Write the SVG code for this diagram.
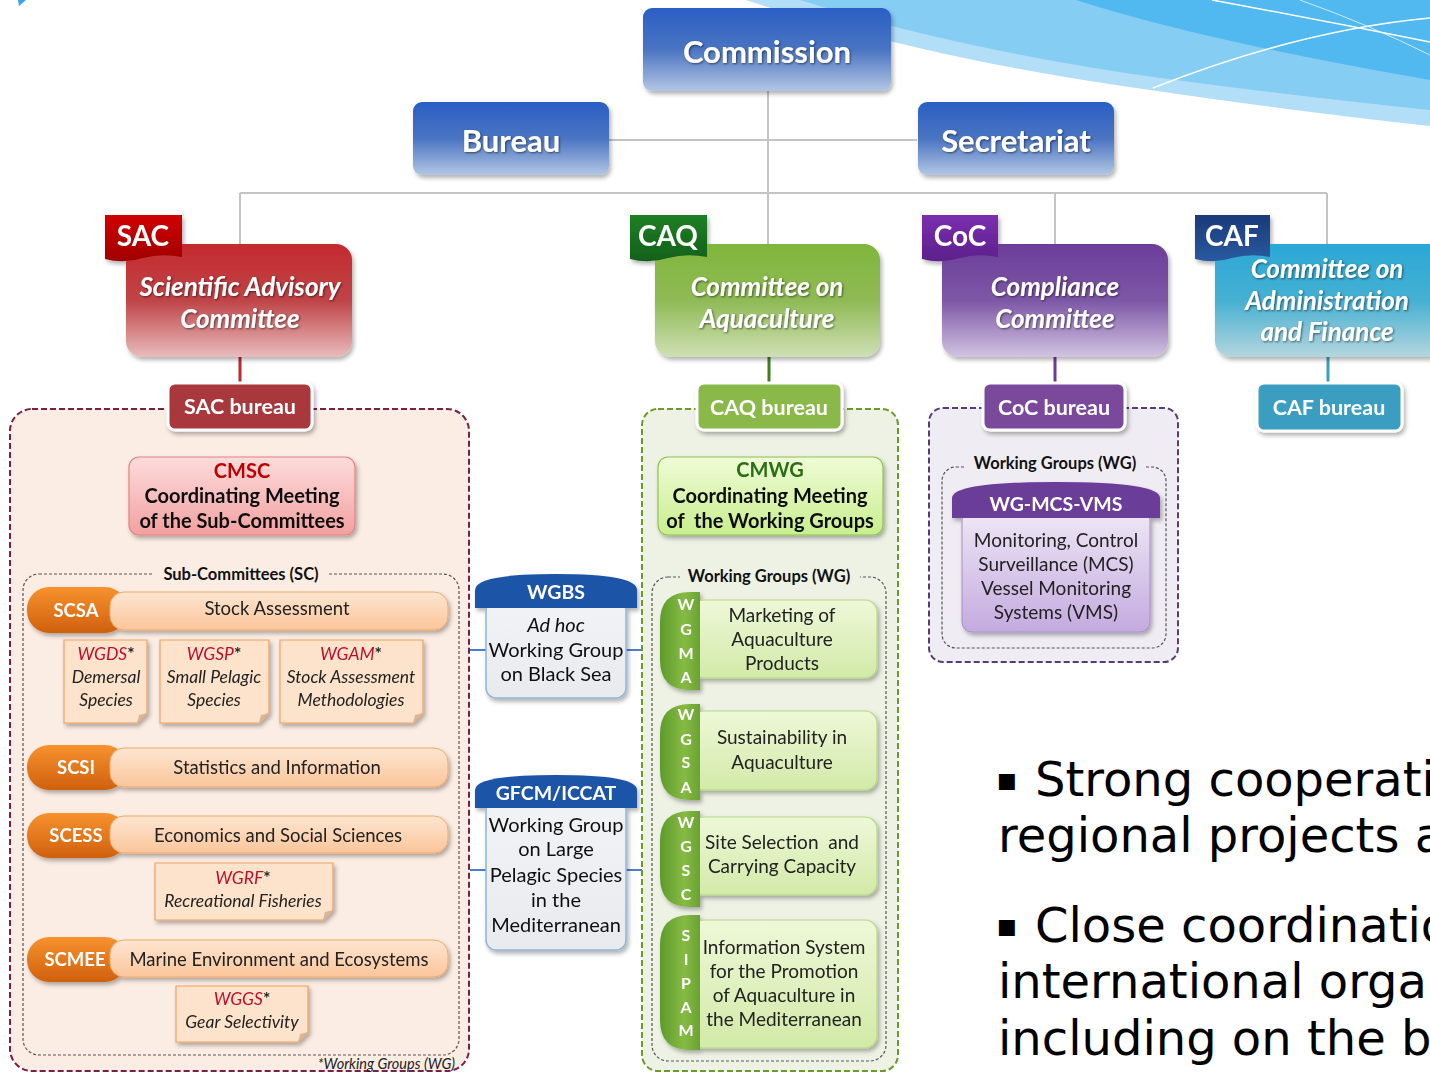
<svg xmlns="http://www.w3.org/2000/svg" width="1430" height="1073" viewBox="0 0 1430 1073">
<defs>
<linearGradient id="gBlue" x1="0" y1="0" x2="0" y2="1"><stop offset="0" stop-color="#2a5fc4"/><stop offset="0.5" stop-color="#4a74c2"/><stop offset="1" stop-color="#b3c6e4"/></linearGradient>
<linearGradient id="gRed" x1="0" y1="0" x2="0" y2="1"><stop offset="0" stop-color="#c42a2e"/><stop offset="0.5" stop-color="#bf4448"/><stop offset="1" stop-color="#e9bcbc"/></linearGradient>
<linearGradient id="gGreen" x1="0" y1="0" x2="0" y2="1"><stop offset="0" stop-color="#80b63c"/><stop offset="0.5" stop-color="#8fba55"/><stop offset="1" stop-color="#cfe0b4"/></linearGradient>
<linearGradient id="gPurple" x1="0" y1="0" x2="0" y2="1"><stop offset="0" stop-color="#6b3d99"/><stop offset="0.5" stop-color="#7d57a6"/><stop offset="1" stop-color="#d2c4e2"/></linearGradient>
<linearGradient id="gTeal" x1="0" y1="0" x2="0" y2="1"><stop offset="0" stop-color="#2aa8d6"/><stop offset="0.5" stop-color="#46b0d2"/><stop offset="1" stop-color="#b4d6de"/></linearGradient>
<linearGradient id="gTagRed" x1="0" y1="0" x2="0" y2="1"><stop offset="0" stop-color="#d00000"/><stop offset="1" stop-color="#a00000"/></linearGradient>
<linearGradient id="gTagGreen" x1="0" y1="0" x2="0" y2="1"><stop offset="0" stop-color="#1f7f24"/><stop offset="1" stop-color="#11601a"/></linearGradient>
<linearGradient id="gTagPurple" x1="0" y1="0" x2="0" y2="1"><stop offset="0" stop-color="#7b2fb0"/><stop offset="1" stop-color="#5c1f8a"/></linearGradient>
<linearGradient id="gTagNavy" x1="0" y1="0" x2="0" y2="1"><stop offset="0" stop-color="#1b3a78"/><stop offset="1" stop-color="#2a5aa0"/></linearGradient>
<linearGradient id="gCMSC" x1="0" y1="0" x2="0" y2="1"><stop offset="0" stop-color="#fcdcdc"/><stop offset="1" stop-color="#f3a0a0"/></linearGradient>
<linearGradient id="gCMWG" x1="0" y1="0" x2="0" y2="1"><stop offset="0" stop-color="#effbd8"/><stop offset="1" stop-color="#c9ee8e"/></linearGradient>
<linearGradient id="gOrange" x1="0" y1="0" x2="0" y2="1"><stop offset="0" stop-color="#f7922e"/><stop offset="1" stop-color="#d0600e"/></linearGradient>
<linearGradient id="gBar" x1="0" y1="0" x2="0" y2="1"><stop offset="0" stop-color="#fde6d2"/><stop offset="1" stop-color="#fbc59a"/></linearGradient>
<linearGradient id="gWgTab" x1="0" y1="0" x2="1" y2="0"><stop offset="0" stop-color="#5e9a2a"/><stop offset="0.6" stop-color="#86bb44"/><stop offset="1" stop-color="#6aa232"/></linearGradient>
<linearGradient id="gWgBox" x1="0" y1="0" x2="0" y2="1"><stop offset="0" stop-color="#eef8d8"/><stop offset="1" stop-color="#d2eaa8"/></linearGradient>
<linearGradient id="gLav" x1="0" y1="0" x2="0" y2="1"><stop offset="0" stop-color="#efe8f6"/><stop offset="1" stop-color="#c4aadf"/></linearGradient>
<linearGradient id="gGrey" x1="0" y1="0" x2="0" y2="1"><stop offset="0" stop-color="#f2f3f5"/><stop offset="1" stop-color="#e8eaee"/></linearGradient>
<filter id="sh" x="-10%" y="-10%" width="125%" height="130%"><feDropShadow dx="2" dy="3" stdDeviation="2" flood-color="#000" flood-opacity="0.3"/></filter>
<filter id="tsh" x="-5%" y="-20%" width="110%" height="150%"><feDropShadow dx="1" dy="1" stdDeviation="0.8" flood-color="#000" flood-opacity="0.55"/></filter>
<style>
text{font-family:Lato,"Open Sans","Liberation Sans",sans-serif}
.big{font-size:31px;font-weight:bold;fill:#fff;text-anchor:middle}
.tag{font-size:28px;font-weight:bold;fill:#fff;text-anchor:middle}
.com{font-size:26px;font-weight:bold;font-style:italic;fill:#fff;text-anchor:middle}
.bur{font-size:21.5px;font-weight:bold;fill:#fff;text-anchor:middle}
.cm{font-size:20px;font-weight:bold;fill:#111;text-anchor:middle}
.lbl{font-size:16.5px;font-weight:bold;fill:#111;text-anchor:middle}
.sc{font-size:18.5px;font-weight:bold;fill:#fff;text-anchor:middle}
.bar{font-size:18.5px;fill:#222;text-anchor:middle}
.note{font-size:17.5px;font-style:italic;fill:#222;text-anchor:middle}
.wgr{fill:#c0102a}
.ast{font-weight:bold;font-style:normal;fill:#222}
.wgt{font-size:19px;fill:#222;text-anchor:middle}
.let{font-size:16px;font-weight:bold;fill:#fff;text-anchor:middle}
.mid{font-size:20px;fill:#111;text-anchor:middle}
.cap{font-size:19.5px;font-weight:bold;fill:#fff;text-anchor:middle}
.bul{font-family:"DejaVu Sans",Verdana,sans-serif;font-size:48px;fill:#000}
.gline{stroke:#c4c4c4;stroke-width:2;fill:none}
.dash{stroke-dasharray:6 3;stroke-width:2}
.dot{stroke:#555;stroke-width:1.2;stroke-dasharray:3 2;fill:none}
.wbox{stroke:#fff;stroke-width:3}
</style>
</defs>

<!-- background decoration -->
<g id="background">
<path d="M746 0 Q 930 60 1150 90 Q 1300 112 1430 126 L1430 0 Z" fill="#b3def8"/>
<path d="M800 0 Q 960 50 1160 78 Q 1310 98 1430 110 L1430 0 Z" fill="#86cdf4"/>
<path d="M1076 0 Q 1200 40 1430 80 L1430 0 Z" fill="#52b8f0"/>
<path d="M1212 0 Q 1320 20 1430 42" stroke="#fff" stroke-width="1.5" fill="none"/>
<path d="M1153 88 Q 1300 30 1430 18" stroke="#fff" stroke-width="1.5" fill="none"/>
<path d="M1300 0 Q 1370 25 1430 55" stroke="#fff" stroke-width="1" fill="none" opacity="0.7"/>
<polygon points="18,0 26,0 19,6" fill="#3aa6e8"/>
</g>

<!-- connectors -->
<g id="connectors">
<path class="gline" d="M768 90 V193 M609 140 H917 M240 193 H1327 M240 193 V245 M768 193 V245 M1055 193 V245 M1327 193 V245"/>
<path d="M240 357 V384 M240 430 V458 M240 535 V562" stroke="#c0282d" stroke-width="3"/>
<path d="M769 357 V384 M769 430 V458 M769 535 V565" stroke="#3f7f1e" stroke-width="3"/>
<path d="M1055 357 V384 M1055 430 V452" stroke="#6b3d99" stroke-width="3"/>
<path d="M1328 357 V384" stroke="#3a9ebe" stroke-width="3"/>
<path d="M470 650 H486 M626 650 H642 M470 870 H486 M626 870 H642" stroke="#4a7fd0" stroke-width="2"/>
</g>

<!-- top nodes -->
<g id="commission" filter="url(#sh)"><rect x="643" y="8" width="248" height="83" rx="9" fill="url(#gBlue)"/><text class="big" x="767" y="63" filter="url(#tsh)" font-size="34.5">Commission</text></g>
<g id="bureau" filter="url(#sh)"><rect x="413" y="102" width="196" height="73" rx="9" fill="url(#gBlue)"/><text class="big" x="511" y="152" filter="url(#tsh)">Bureau</text></g>
<g id="secretariat" filter="url(#sh)"><rect x="918" y="102" width="196" height="73" rx="9" fill="url(#gBlue)"/><text class="big" x="1016" y="152" filter="url(#tsh)">Secretariat</text></g>

<!-- SAC -->
<g id="sac-container"><rect x="10" y="409" width="459" height="662" rx="22" fill="#fbede4" stroke="#7a1f45" class="dash"/></g>
<g id="sac" filter="url(#sh)">
<rect x="126" y="244" width="226" height="113" rx="16" fill="url(#gRed)"/>
<path d="M105 215 H182 V257 Q162 253 143 258 Q124 264 105 259 Z" fill="url(#gTagRed)"/>
<text class="tag" x="143" y="246">SAC</text>
<text class="com" x="240" y="296" filter="url(#tsh)">Scientific Advisory</text>
<text class="com" x="240" y="328" filter="url(#tsh)">Committee</text>
</g>
<g id="sac-bureau" filter="url(#sh)"><rect x="168" y="383" width="144" height="47" rx="7" fill="#a8373b" class="wbox"/><text class="bur" x="240" y="414">SAC bureau</text></g>
<g id="cmsc" filter="url(#sh)"><rect x="129" y="457" width="226" height="78" rx="10" fill="url(#gCMSC)" stroke="#e58080" stroke-width="1.2"/>
<text class="cm" x="242" y="478" style="fill:#c00000">CMSC</text>
<text class="cm" x="242" y="503">Coordinating Meeting</text>
<text class="cm" x="242" y="528">of the Sub-Committees</text></g>

<g id="sub-committees">
<rect x="23" y="574" width="436" height="481" rx="16" class="dot"/>
<rect x="154" y="565" width="174" height="18" fill="#fbede4"/>
<text class="lbl" x="241" y="580">Sub-Committees (SC)</text>
</g>

<g id="scsa" filter="url(#sh)"><rect x="27" y="587" width="100" height="46" rx="22" fill="url(#gOrange)"/><rect x="110" y="592" width="338" height="38" rx="14" fill="url(#gBar)" stroke="#f2a86a" stroke-width="1"/><text class="sc" x="76" y="617">SCSA</text><text class="bar" x="277" y="615">Stock Assessment</text></g>
<g id="wgds" filter="url(#sh)"><path d="M64 640 H147 V713 L137 723 H64 Z" fill="#fde3cb" stroke="#f0a060" stroke-width="1.2"/><path d="M147 713 L137 723 L139 715 Z" fill="#d8b89a"/><text class="note" x="106" y="660"><tspan class="wgr">WGDS</tspan><tspan class="ast">*</tspan></text><text class="note" x="106" y="683">Demersal</text><text class="note" x="106" y="706">Species</text></g>
<g id="wgsp" filter="url(#sh)"><path d="M160 640 H269 V713 L259 723 H160 Z" fill="#fde3cb" stroke="#f0a060" stroke-width="1.2"/><path d="M269 713 L259 723 L261 715 Z" fill="#d8b89a"/><text class="note" x="214" y="660"><tspan class="wgr">WGSP</tspan><tspan class="ast">*</tspan></text><text class="note" x="214" y="683">Small Pelagic</text><text class="note" x="214" y="706">Species</text></g>
<g id="wgam" filter="url(#sh)"><path d="M280 640 H423 V713 L413 723 H280 Z" fill="#fde3cb" stroke="#f0a060" stroke-width="1.2"/><path d="M423 713 L413 723 L415 715 Z" fill="#d8b89a"/><text class="note" x="351" y="660"><tspan class="wgr">WGAM</tspan><tspan class="ast">*</tspan></text><text class="note" x="351" y="683">Stock Assessment</text><text class="note" x="351" y="706">Methodologies</text></g>
<g id="scsi" filter="url(#sh)"><rect x="27" y="745" width="100" height="45" rx="22" fill="url(#gOrange)"/><rect x="110" y="748" width="338" height="39" rx="14" fill="url(#gBar)" stroke="#f2a86a" stroke-width="1"/><text class="sc" x="76" y="774">SCSI</text><text class="bar" x="277" y="774">Statistics and Information</text></g>
<g id="scess" filter="url(#sh)"><rect x="27" y="813" width="100" height="45" rx="22" fill="url(#gOrange)"/><rect x="110" y="816" width="338" height="37" rx="14" fill="url(#gBar)" stroke="#f2a86a" stroke-width="1"/><text class="sc" x="76" y="842">SCESS</text><text class="bar" x="278" y="842">Economics and Social Sciences</text></g>
<g id="wgrf" filter="url(#sh)"><path d="M155 863 H333 V910 L323 920 H155 Z" fill="#fde3cb" stroke="#f0a060" stroke-width="1.2"/><path d="M333 910 L323 920 L325 912 Z" fill="#d8b89a"/><text class="note" x="243" y="884"><tspan class="wgr">WGRF</tspan><tspan class="ast">*</tspan></text><text class="note" x="243" y="907">Recreational Fisheries</text></g>
<g id="scmee" filter="url(#sh)"><rect x="27" y="937" width="100" height="45" rx="22" fill="url(#gOrange)"/><rect x="110" y="940" width="338" height="37" rx="14" fill="url(#gBar)" stroke="#f2a86a" stroke-width="1"/><text class="sc" x="75" y="966">SCMEE</text><text class="bar" x="279" y="966">Marine Environment and Ecosystems</text></g>
<g id="wggs" filter="url(#sh)"><path d="M176 986 H308 V1032 L298 1042 H176 Z" fill="#fde3cb" stroke="#f0a060" stroke-width="1.2"/><path d="M308 1032 L298 1042 L300 1034 Z" fill="#d8b89a"/><text class="note" x="242" y="1005"><tspan class="wgr">WGGS</tspan><tspan class="ast">*</tspan></text><text class="note" x="242" y="1028">Gear Selectivity</text></g>
<g id="wg-footnote"><text x="455" y="1069" font-size="14.5" font-style="italic" fill="#222" text-anchor="end">*Working Groups (WG)</text></g>

<!-- middle working groups -->
<g id="wgbs" filter="url(#sh)">
<rect x="486" y="600" width="140" height="98" rx="10" fill="url(#gGrey)" stroke="#8fb6d8" stroke-width="1.5"/>
<path d="M475 608 V590 Q475 574 556 574 Q637 574 637 590 V608 Z" fill="#1f55a8"/>
<text class="cap" x="556" y="599">WGBS</text>
<text class="mid" x="556" y="632" font-style="italic">Ad hoc</text>
<text class="mid" x="556" y="657">Working Group</text>
<text class="mid" x="556" y="681">on Black Sea</text>
</g>
<g id="gfcm-iccat" filter="url(#sh)">
<rect x="486" y="800" width="140" height="150" rx="10" fill="url(#gGrey)" stroke="#8fb6d8" stroke-width="1.5"/>
<path d="M475 808 V790 Q475 775 556 775 Q637 775 637 790 V808 Z" fill="#1f55a8"/>
<text class="cap" x="556" y="800">GFCM/ICCAT</text>
<text class="mid" x="556" y="832">Working Group</text>
<text class="mid" x="556" y="856">on Large</text>
<text class="mid" x="556" y="882">Pelagic Species</text>
<text class="mid" x="556" y="907">in the</text>
<text class="mid" x="556" y="932">Mediterranean</text>
</g>

<!-- CAQ -->
<g id="caq-container"><rect x="642" y="409" width="256" height="662" rx="16" fill="#eef2e4" stroke="#6a9a2a" class="dash"/></g>
<g id="caq" filter="url(#sh)">
<rect x="655" y="244" width="225" height="113" rx="16" fill="url(#gGreen)"/>
<path d="M630 215 H707 V257 Q687 253 668 258 Q649 264 630 259 Z" fill="url(#gTagGreen)"/>
<text class="tag" x="668" y="246">CAQ</text>
<text class="com" x="767" y="296" filter="url(#tsh)">Committee on</text>
<text class="com" x="767" y="328" filter="url(#tsh)">Aquaculture</text>
</g>
<g id="caq-bureau" filter="url(#sh)"><rect x="697" y="383" width="145" height="47" rx="7" fill="#8ab84a" class="wbox"/><text class="bur" x="769" y="415">CAQ bureau</text></g>
<g id="cmwg" filter="url(#sh)"><rect x="658" y="457" width="225" height="78" rx="10" fill="url(#gCMWG)" stroke="#8cc152" stroke-width="1.2"/>
<text class="cm" x="770" y="477" style="fill:#2a6e12">CMWG</text>
<text class="cm" x="770" y="503">Coordinating Meeting</text>
<text class="cm" x="770" y="528" xml:space="preserve">of  the Working Groups</text></g>
<g id="caq-working-groups">
<rect x="652" y="577" width="234" height="484" rx="16" class="dot"/>
<rect x="680" y="567" width="180" height="18" fill="#eef2e4"/>
<text class="lbl" x="769" y="582">Working  Groups (WG)</text>
</g>
<g id="wgma" filter="url(#sh)"><rect x="692" y="600" width="185" height="78" rx="12" fill="url(#gWgBox)" stroke="#b5d88a" stroke-width="1.2"/><path d="M700 592 V690 H690 Q660 690 660 660 V622 Q660 592 690 592 Z" fill="url(#gWgTab)"/>
<text class="let" x="686" y="610">W</text><text class="let" x="686" y="635">G</text><text class="let" x="686" y="659">M</text><text class="let" x="686" y="683">A</text>
<text class="wgt" x="782" y="622">Marketing of</text><text class="wgt" x="782" y="646">Aquaculture</text><text class="wgt" x="782" y="670">Products</text></g>
<g id="wgsa" filter="url(#sh)"><rect x="692" y="711" width="185" height="79" rx="12" fill="url(#gWgBox)" stroke="#b5d88a" stroke-width="1.2"/><path d="M700 704 V800 H690 Q660 800 660 770 V734 Q660 704 690 704 Z" fill="url(#gWgTab)"/>
<text class="let" x="686" y="720">W</text><text class="let" x="686" y="745">G</text><text class="let" x="686" y="768">S</text><text class="let" x="686" y="793">A</text>
<text class="wgt" x="782" y="744">Sustainability in</text><text class="wgt" x="782" y="769">Aquaculture</text></g>
<g id="wgsc" filter="url(#sh)"><rect x="692" y="817" width="185" height="78" rx="12" fill="url(#gWgBox)" stroke="#b5d88a" stroke-width="1.2"/><path d="M700 811 V907 H690 Q660 907 660 877 V841 Q660 811 690 811 Z" fill="url(#gWgTab)"/>
<text class="let" x="686" y="828">W</text><text class="let" x="686" y="852">G</text><text class="let" x="686" y="876">S</text><text class="let" x="686" y="900">C</text>
<text class="wgt" x="782" y="849" xml:space="preserve">Site Selection  and</text><text class="wgt" x="782" y="873">Carrying Capacity</text></g>
<g id="sipam" filter="url(#sh)"><rect x="692" y="920" width="185" height="128" rx="12" fill="url(#gWgBox)" stroke="#b5d88a" stroke-width="1.2"/><path d="M700 915 V1050 H690 Q660 1050 660 1020 V945 Q660 915 690 915 Z" fill="url(#gWgTab)"/>
<text class="let" x="686" y="941">S</text><text class="let" x="686" y="965">I</text><text class="let" x="686" y="989">P</text><text class="let" x="686" y="1013">A</text><text class="let" x="686" y="1036">M</text>
<text class="wgt" x="784" y="954">Information System</text><text class="wgt" x="784" y="978">for the Promotion</text><text class="wgt" x="784" y="1002">of Aquaculture in</text><text class="wgt" x="784" y="1026">the Mediterranean</text></g>

<!-- CoC -->
<g id="coc-container"><rect x="929" y="408" width="249" height="254" rx="14" fill="#efedf3" stroke="#5a3a7e" class="dash"/></g>
<g id="coc" filter="url(#sh)">
<rect x="942" y="244" width="226" height="113" rx="16" fill="url(#gPurple)"/>
<path d="M922 215 H998 V257 Q978 253 960 258 Q941 264 922 259 Z" fill="url(#gTagPurple)"/>
<text class="tag" x="960" y="246">CoC</text>
<text class="com" x="1055" y="296" filter="url(#tsh)">Compliance</text>
<text class="com" x="1055" y="328" filter="url(#tsh)">Committee</text>
</g>
<g id="coc-bureau" filter="url(#sh)"><rect x="983" y="383" width="142" height="47" rx="7" fill="#7a4a9c" class="wbox"/><text class="bur" x="1054" y="415">CoC bureau</text></g>
<g id="coc-working-groups">
<rect x="942" y="467" width="224" height="181" rx="14" class="dot"/>
<rect x="966" y="455" width="178" height="18" fill="#efedf3"/>
<text class="lbl" x="1055" y="469">Working  Groups (WG)</text>
</g>
<g id="wg-mcs-vms" filter="url(#sh)">
<rect x="962" y="510" width="188" height="122" rx="10" fill="url(#gLav)" stroke="#a88cc8" stroke-width="1"/>
<path d="M952 518 V498 Q952 482 1056 482 Q1160 482 1160 498 V518 Z" fill="#6a3d99"/>
<text class="cap" x="1056" y="511">WG-MCS-VMS</text>
<text class="wgt" x="1056" y="547">Monitoring, Control</text>
<text class="wgt" x="1056" y="571">Surveillance (MCS)</text>
<text class="wgt" x="1056" y="595">Vessel Monitoring</text>
<text class="wgt" x="1056" y="619">Systems (VMS)</text>
</g>

<!-- CAF -->
<g id="caf" filter="url(#sh)">
<rect x="1215" y="244" width="235" height="113" rx="16" fill="url(#gTeal)"/>
<path d="M1195 215 H1270 V257 Q1251 253 1232 258 Q1214 264 1195 259 Z" fill="url(#gTagNavy)"/>
<text class="tag" x="1232" y="246">CAF</text>
<text class="com" x="1327" y="278" filter="url(#tsh)">Committee on</text>
<text class="com" x="1327" y="310" filter="url(#tsh)">Administration</text>
<text class="com" x="1327" y="341" filter="url(#tsh)">and Finance</text>
</g>
<g id="caf-bureau" filter="url(#sh)"><rect x="1257" y="383" width="145" height="48" rx="7" fill="#3b9ec0" class="wbox"/><text class="bur" x="1329" y="415">CAF bureau</text></g>

<!-- bullet text -->
<g id="bullets">
<text class="bul" y="796"><tspan x="996" y="790" font-size="32">▪</tspan><tspan x="1035" y="796">Strong cooperati</tspan></text>
<text class="bul" x="998" y="852">regional projects a</text>
<text class="bul" y="942"><tspan x="996" y="936" font-size="32">▪</tspan><tspan x="1035" y="942">Close coordinatio</tspan></text>
<text class="bul" x="998" y="998">international orga</text>
<text class="bul" x="998" y="1055">including on the b</text>
</g>
</svg>
